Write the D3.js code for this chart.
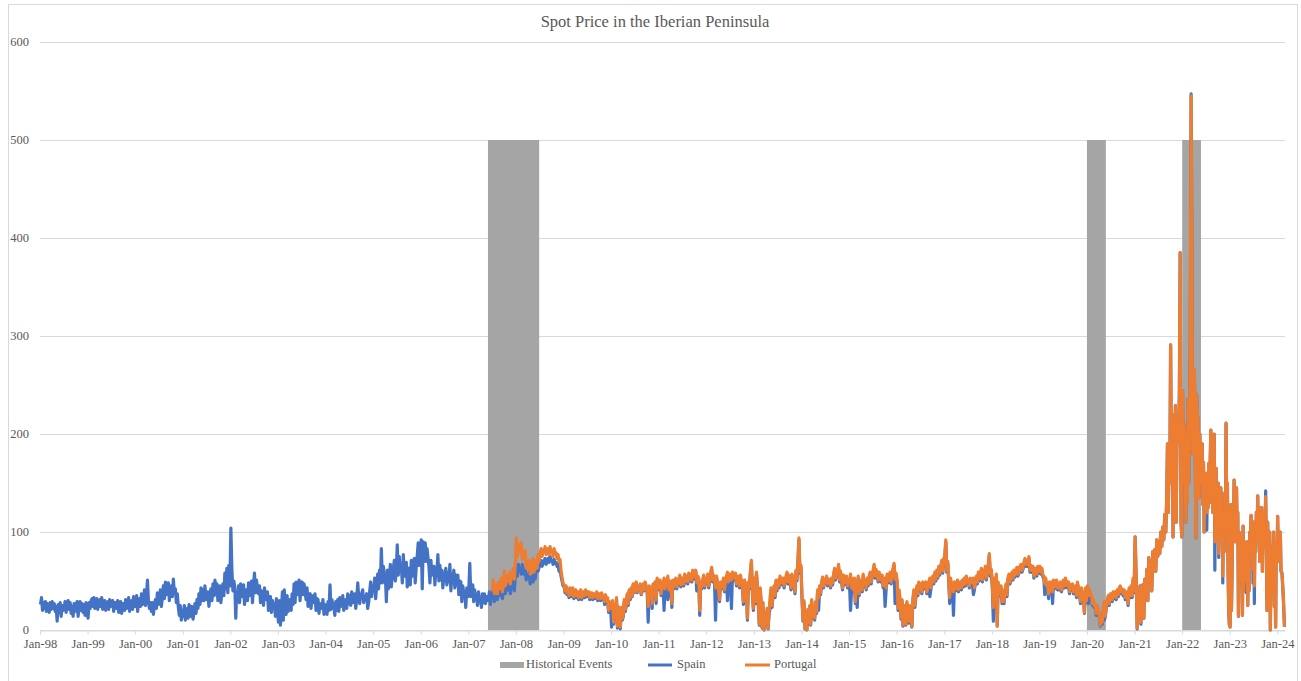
<!DOCTYPE html>
<html>
<head>
<meta charset="utf-8">
<script src="https://cdn.jsdelivr.net/npm/d3@7"></script>
<style>
  body { margin: 0; background: #fff; }
  text { font-family: "Liberation Serif", "Times New Roman", serif; fill: #595959; }
</style>
</head>
<body>
<svg id="chart" width="1301" height="681"></svg>
<script>
// Spot price readings (EUR/MWh): one row per month, readings spread through the month.
const spainStart = [1998, 0];
const spainPrices = [
  // 1998
  [26,33,20,28],[22,29,19,27],[25,18,28,21],[29,22,27,19],[24,9,26,18],[28,14,25,20],[22,29,18,27],[30,21,28,17],[24,14,27,19],[26,29,14,23],[29,20,27,18],[26,15,28,19],
  // 1999
  [12,28,22,30],[32,24,33,22],[27,32,21,30],[31,24,33,21],[25,30,20,28],[29,21,31,24],[26,30,19,28],[28,22,30,18],[23,29,17,27],[27,20,31,22],[24,33,19,29],[30,21,34,24],
  // 2000
  [24,35,19,30],[32,24,37,26],[28,41,25,35],[51,30,22,28],[19,28,16,25],[31,22,38,26],[28,41,24,33],[45,32,49,36],[38,48,30,42],[45,34,52,38],[42,28,37,24],[15,25,10,20],
  // 2001
  [14,25,10,20],[22,12,26,15],[14,24,11,19],[27,17,31,22],[37,26,43,30],[41,30,45,34],[31,39,24,36],[42,30,47,35],[51,36,47,30],[37,45,28,40],[47,35,58,42],[63,38,66,45],
  // 2002
  [104,62,40,50],[43,12,38,30],[45,28,47,34],[36,46,26,40],[41,30,48,35],[39,50,28,44],[58,38,51,42],[37,45,28,40],[39,25,43,32],[31,39,20,34],[34,18,30,25],[27,14,32,20],
  // 2003
  [8,30,5,22],[39,10,41,26],[16,35,19,28],[31,20,37,26],[47,28,49,36],[37,51,30,44],[49,36,47,40],[31,43,24,36],[37,22,35,28],[29,37,20,32],[31,17,27,22],[23,31,16,26],
  // 2004
  [25,16,29,20],[46,21,31,26],[25,15,29,20],[31,19,33,24],[27,35,20,30],[31,22,37,27],[35,25,39,28],[29,37,22,32],[48,33,27,36],[37,41,28,34],[31,37,22,28],[39,49,34,43],
  // 2005
  [41,53,32,46],[57,42,61,48],[83,48,65,55],[55,29,61,42],[51,67,44,58],[63,71,50,60],[87,56,75,62],[65,48,77,55],[55,69,44,60],[63,46,71,55],[57,73,48,64],[75,89,66,81],
  // 2006
  [92,42,90,70],[89,70,83,74],[65,48,71,56],[57,65,46,60],[59,77,50,66],[51,61,43,55],[56,63,46,58],[49,67,40,55],[53,61,43,56],[46,56,36,50],[49,29,45,38],[39,23,43,34],
  // 2007
  [41,68,34,46],[46,29,41,35],[36,25,39,30],[31,23,37,28],[37,27,34,30],[31,39,26,35],[35,43,29,38],[39,31,43,35],[35,45,32,40],[49,37,45,41],[41,49,37,44],[45,51,40,55],
  // 2008
  [64,55,67,60],[63,57,67,60],[57,63,51,56],[53,59,47,52],[55,49,57,52],[61,67,60,64],[69,71,65,68],[71,73,67,70],[73,69,75,71],[71,67,72,68],[69,65,67,60],[63,55,50,45],
  // 2009
  [45,38,44,36],[40,33,42,34],[37,42,32,38],[39,33,37,31],[36,40,31,35],[37,33,39,34],[35,38,31,36],[36,31,35,32],[34,37,30,35],[35,30,36,31],[33,26,34,28],[31,18,27,24],
  // 2010
  [3,28,6,24],[11,31,2,22],[17,1,21,10],[14,29,19,24],[35,25,40,31],[42,34,46,38],[44,48,38,43],[42,46,36,41],[46,40,48,43],[39,8,43,36],[41,22,46,38],[47,27,51,43],
  // 2011
  [41,49,35,45],[45,20,40,47],[47,31,39,48],[45,23,49,42],[47,51,42,48],[49,54,44,51],[51,45,55,48],[53,47,56,50],[55,49,59,52],[54,59,40,53],[51,15,47,42],[49,54,43,50],
  // 2012
  [49,55,43,51],[57,62,49,54],[49,10,53,45],[39,29,47,42],[45,51,39,48],[53,30,47,51],[55,22,57,52],[51,56,45,53],[49,43,54,47],[43,26,49,45],[41,10,47,42],[57,69,38,20],
  // 2013
  [51,27,57,43],[23,5,41,28],[2,22,0,13],[6,20,1,16],[22,41,23,36],[43,33,49,40],[49,43,53,46],[47,51,43,48],[53,57,47,54],[49,41,55,48],[45,37,59,50],[69,92,58,64],
  // 2014
  [33,9,28,1],[11,0,19,6],[23,5,29,12],[21,10,27,17],[39,20,43,36],[47,52,43,49],[49,53,45,50],[49,43,51,46],[55,61,51,57],[57,65,49,58],[49,41,54,46],[47,53,43,50],
  // 2015
  [47,20,41,50],[39,51,27,43],[23,53,35,48],[49,39,55,46],[47,41,51,45],[53,57,47,54],[59,65,53,60],[55,49,57,52],[49,54,43,48],[24,41,55,48],[53,57,47,54],[61,66,27,56],
  // 2016
  [49,20,39,28],[11,29,4,18],[23,5,27,12],[7,23,15,3],[29,39,23,34],[43,35,47,40],[45,37,47,42],[43,47,37,44],[47,34,41,48],[53,47,57,50],[59,53,63,56],[63,69,58,71],
  // 2017
  [73,90,59,68],[49,27,51,43],[43,15,47,40],[45,49,39,46],[47,41,49,44],[51,45,53,48],[49,43,51,46],[47,36,41,48],[53,47,57,50],[55,61,49,56],[57,63,51,58],[65,76,55,60],
  // 2018
  [43,9,51,38],[55,4,47,36],[35,43,27,38],[27,39,45,34],[51,55,47,52],[57,51,59,54],[59,62,55,58],[63,65,59,62],[67,71,65,69],[65,73,59,64],[59,63,53,58],[61,55,63,58],
  // 2019
  [63,57,61,54],[53,36,51,43],[43,32,47,38],[47,27,49,42],[45,49,41,46],[41,47,39,44],[49,43,51,46],[43,47,37,44],[41,45,37,42],[43,33,47,40],[37,27,41,33],[35,17,41,28],
  // 2020
  [43,27,39,36],[33,25,29,23],[25,15,23,18],[13,4,9,6],[19,10,13,22],[29,33,25,35],[35,29,37,32],[37,31,39,34],[41,43,37,40],[35,39,31,36],[37,25,41,33],[43,33,51,38],
  // 2021
  [95,55,1,30],[25,45,6,40],[46,12,52,35],[62,30,74,55],[70,40,80,60],[82,60,92,75],[90,78,100,85],[105,92,118,100],[135,190,120,170,150],[291,170,210,95,220],[160,229,110,200,190],[200,240,385,110,95],
  // 2022
  [244,150,210,180,110],[180,130,236,150,200],[300,547,388,180,236],[265,200,94,240,218],[215,135,200,150,170],[190,128,171,100,160,140],[150,102,160,125,170,140],[170,204,130,180,120,160],[200,61,140,165,110,92],[150,74,130,100,145,120],[140,48,121,80,110,100],[211,120,150,60,17,5],
  // 2023
  [3,128,20,60,110,90],[153,110,135,90,145,100],[120,14,100,50,95,70],[80,15,106,40,90,60],[70,38,90,25,85,40],[100,85,117,75,110,48],[110,27,100,80,120,95],[137,95,110,70,125,100],[125,60,110,85,120,100],[142,80,20,110,60,95],[100,0,70,40,85,60],[100,24,60,3,90,70],
  // 2024
  [116,70,95,82,100,60],[58,35,3]
];

const portugalStart = [2007, 6];
const portugalPrices = [
  // 2007 (from July)
  [40,51,37,46],[45,37,49,42],[43,53,39,48],[60,45,55,50],[51,59,47,54],[57,63,52,67],
  // 2008
  [94,75,87,80],[81,89,72,78],[73,81,63,70],[63,71,57,66],[65,73,59,68],[71,63,77,70],[79,83,75,80],[81,85,77,82],[83,77,85,80],[81,75,83,78],[79,73,77,70],[72,61,54,48],
  // 2009
  [46,40,45,38],[41,35,43,36],[39,43,34,40],[41,35,39,33],[38,41,33,37],[39,35,41,36],[37,39,33,38],[38,33,37,34],[36,39,32,37],[37,32,38,33],[35,29,36,30],[33,20,29,24],
  // 2010
  [22,30,8,26],[13,33,4,24],[19,3,23,12],[16,31,21,26],[37,27,41,33],[43,35,47,39],[45,49,39,44],[43,47,37,42],[47,41,49,44],[41,24,45,38],[43,27,47,40],[49,31,53,45],
  // 2011
  [43,51,37,47],[47,53,42,49],[49,55,41,50],[47,27,51,44],[49,53,44,50],[51,56,46,53],[53,47,57,50],[55,49,58,52],[57,51,61,54],[56,61,48,55],[53,20,49,44],[51,56,45,52],
  // 2012
  [51,57,45,53],[59,64,51,56],[51,43,55,47],[41,31,49,44],[47,53,41,50],[55,59,49,53],[57,51,59,54],[53,58,47,55],[51,45,56,49],[45,29,51,47],[43,12,49,44],[59,71,40,22],
  // 2013
  [53,29,59,45],[25,6,43,30],[3,28,0,15],[8,22,2,18],[33,43,25,38],[45,35,51,42],[51,45,55,48],[49,53,45,50],[55,59,49,56],[51,43,57,50],[47,39,61,52],[71,94,60,66],
  // 2014
  [35,10,30,2],[13,0,21,8],[25,6,31,14],[23,12,29,19],[41,33,45,38],[49,54,45,51],[51,55,47,52],[51,45,53,48],[57,63,53,59],[59,67,51,60],[51,43,56,48],[49,55,45,52],
  // 2015
  [49,57,43,52],[41,53,29,45],[47,55,37,50],[51,41,57,48],[49,43,53,47],[55,59,49,56],[61,67,55,62],[57,51,59,54],[51,56,45,50],[53,43,57,50],[55,59,49,56],[63,68,52,58],
  // 2016
  [51,22,41,30],[13,31,5,20],[25,6,29,14],[9,25,17,4],[31,41,25,36],[45,37,49,42],[47,39,49,44],[45,49,39,46],[49,53,43,50],[55,49,59,52],[61,55,65,58],[65,71,60,73],
  // 2017
  [75,92,61,70],[51,33,53,45],[45,39,49,42],[47,51,41,48],[49,43,51,46],[53,47,55,50],[51,45,53,48],[49,53,43,50],[55,49,59,52],[57,63,51,58],[59,65,53,60],[67,78,57,62],
  // 2018
  [45,23,53,40],[57,4,49,38],[37,45,29,40],[29,41,47,36],[53,57,49,54],[59,53,61,56],[61,64,57,60],[65,67,61,64],[69,73,67,71],[67,75,61,66],[61,65,55,60],[63,57,65,60],
  // 2019
  [65,59,63,56],[55,47,53,45],[45,37,49,40],[49,39,51,44],[47,51,43,48],[43,49,41,46],[51,45,53,48],[45,49,39,46],[43,47,39,44],[45,35,49,42],[39,29,43,35],[37,18,43,30],
  // 2020
  [45,35,41,38],[35,27,31,25],[27,17,25,20],[15,5,11,8],[21,29,14,24],[31,35,27,37],[37,31,39,34],[39,33,41,36],[43,45,39,42],[37,41,33,38],[39,27,43,35],[45,35,53,40],
  // 2021
  [95,55,2,30],[26,45,8,40],[46,12,52,35],[62,30,74,55],[70,40,80,60],[82,60,92,75],[90,78,100,85],[105,92,118,100],[135,190,120,170,150],[291,170,210,95,220],[160,229,110,200,190],[200,240,385,110,95],
  // 2022
  [244,150,210,180,110],[180,130,236,150,200],[300,545,388,180,236],[265,200,94,240,218],[215,135,200,150,170],[190,128,171,100,160,140],[150,120,160,125,170,140],[170,204,130,180,120,160],[200,90,140,165,110,92],[150,78,130,100,145,120],[140,55,121,80,110,100],[211,120,150,60,17,5],
  // 2023
  [3,128,20,60,110,90],[153,110,135,90,145,100],[120,14,100,50,95,70],[80,15,106,40,90,60],[70,50,90,25,85,40],[100,95,117,75,110,62],[110,45,100,80,120,95],[137,95,110,70,125,100],[125,60,110,85,120,100],[136,80,20,110,60,95],[100,0,70,40,85,60],[100,24,60,3,90,70],
  // 2024
  [116,70,95,82,100,60],[58,35,3]
];

// Shaded periods of notable market events
const eventPeriods = [
  ["2007-06-01", "2008-06-28"],
  ["2020-01-01", "2020-05-25"],
  ["2022-01-01", "2022-05-25"]
];
const eventLevel = 500;

const yTicks = [0, 100, 200, 300, 400, 500, 600];
const xStart = "1998-01-01";
const xEnd = "2024-02-29";
const chartTitle = "Spot Price in the Iberian Peninsula";
const seriesNames = ["Historical Events", "Spain", "Portugal"];
const colors = { events: "#a5a5a5", spain: "#4472c4", portugal: "#ed7d31", grid: "#d9d9d9" };

const parse = d3.timeParse("%Y-%m-%d");

// Spread each month's readings evenly across that month.
function toPoints(start, rows) {
  const pts = [];
  rows.forEach((vals, i) => {
    const m0 = new Date(start[0], start[1] + i, 1);
    const m1 = new Date(start[0], start[1] + i + 1, 1);
    vals.forEach((v, k) => {
      pts.push({ date: new Date(+m0 + (m1 - m0) * (k + 0.5) / vals.length), value: v });
    });
  });
  return pts;
}

const spain = toPoints(spainStart, spainPrices);
const portugal = toPoints(portugalStart, portugalPrices);

const svg = d3.select("#chart");
const plot = { left: 40, right: 1285, top: 42, bottom: 630 };

const x = d3.scaleTime().domain([parse(xStart), parse(xEnd)]).range([plot.left, plot.right]);
const y = d3.scaleLinear().domain([0, 600]).range([plot.bottom, plot.top]);

// Outer chart frame
svg.append("rect")
  .attr("x", 8.5).attr("y", 4.5).attr("width", 1289).attr("height", 680)
  .attr("fill", "#fff").attr("stroke", colors.grid).attr("stroke-width", 1);

// Title
svg.append("text")
  .attr("x", 655).attr("y", 27)
  .attr("text-anchor", "middle")
  .style("font-size", "16.5px")
  .text(chartTitle);

// Horizontal gridlines and value labels
svg.append("g").selectAll("line").data(yTicks).join("line")
  .attr("x1", plot.left).attr("x2", plot.right)
  .attr("y1", d => Math.round(y(d)) + 0.5).attr("y2", d => Math.round(y(d)) + 0.5)
  .attr("stroke", colors.grid).attr("stroke-width", 1);

svg.append("g").selectAll("text").data(yTicks).join("text")
  .attr("x", 29).attr("y", d => y(d))
  .attr("dy", "0.33em")
  .attr("text-anchor", "end")
  .style("font-size", "12.5px")
  .text(d => d);

// Event shading
svg.append("g").selectAll("rect").data(eventPeriods).join("rect")
  .attr("x", d => x(parse(d[0])))
  .attr("width", d => x(parse(d[1])) - x(parse(d[0])))
  .attr("y", y(eventLevel))
  .attr("height", y(0) - y(eventLevel))
  .attr("fill", colors.events);

// Date axis
const yearTicks = d3.timeYear.range(parse(xStart), new Date(2024, 0, 2));
const xAxis = d3.axisBottom(x)
  .tickValues(yearTicks)
  .tickFormat(d3.timeFormat("%b-%y"))
  .tickSize(4)
  .tickSizeOuter(0)
  .tickPadding(5);

const gx = svg.append("g")
  .attr("transform", `translate(0,${y(0) + 0.5})`)
  .call(xAxis);
gx.select(".domain").attr("stroke", colors.grid);
gx.selectAll(".tick line").attr("stroke", colors.grid);
gx.selectAll(".tick text")
  .style("font-size", "12.5px")
  .style("font-family", '"Liberation Serif", "Times New Roman", serif')
  .attr("fill", "#595959");

// Price lines
const line = d3.line().x(d => x(d.date)).y(d => y(d.value));

svg.append("path").datum(spain)
  .attr("d", line)
  .attr("fill", "none")
  .attr("stroke", colors.spain)
  .attr("stroke-width", 3.2)
  .attr("stroke-linejoin", "round");

svg.append("path").datum(portugal)
  .attr("d", line)
  .attr("fill", "none")
  .attr("stroke", colors.portugal)
  .attr("stroke-width", 3.2)
  .attr("stroke-linejoin", "round");

// Legend
const legend = svg.append("g");
legend.append("rect")
  .attr("x", 500).attr("y", 662).attr("width", 24).attr("height", 6)
  .attr("fill", colors.events);
legend.append("text").attr("x", 526).attr("y", 668).style("font-size", "12.5px").text(seriesNames[0]);

legend.append("line")
  .attr("x1", 648).attr("x2", 672).attr("y1", 665).attr("y2", 665)
  .attr("stroke", colors.spain).attr("stroke-width", 3);
legend.append("text").attr("x", 677).attr("y", 668).style("font-size", "12.5px").text(seriesNames[1]);

legend.append("line")
  .attr("x1", 745).attr("x2", 770).attr("y1", 665).attr("y2", 665)
  .attr("stroke", colors.portugal).attr("stroke-width", 3);
legend.append("text").attr("x", 774).attr("y", 668).style("font-size", "12.5px").text(seriesNames[2]);
</script>
</body>
</html>
